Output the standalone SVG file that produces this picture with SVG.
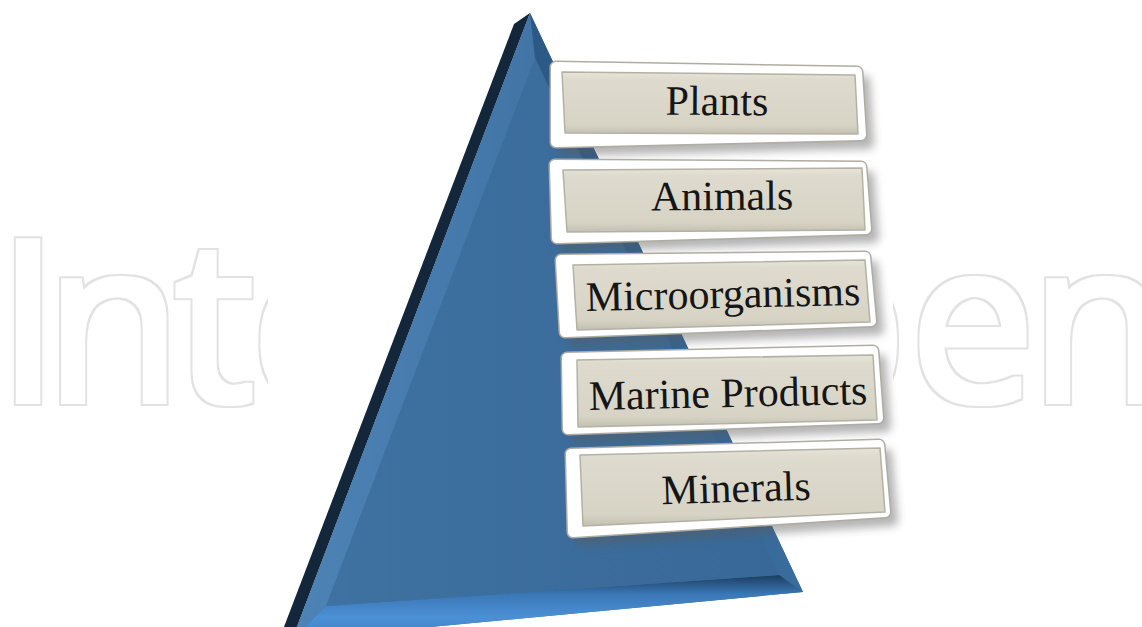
<svg xmlns="http://www.w3.org/2000/svg" width="1142" height="627" viewBox="0 0 1142 627">
  <style>
    .wm { font-family: "Open Sans", "Liberation Sans", sans-serif; font-weight: 400; font-size: 223px; fill: #000000; }
    .label { font-family: "Liberation Serif", "DejaVu Serif", serif; font-size: 42px; fill: #151515; text-anchor: middle; }
    .rimline { fill: #aeaca3; stroke: #aeaca3; stroke-width: 13; stroke-linejoin: round; }
    .rim { fill: #ffffff; stroke: #ffffff; stroke-width: 10; stroke-linejoin: round; }
    .face { fill: url(#faceGrad); stroke: #b3b1a6; stroke-width: 1.5; stroke-linejoin: round; }
    .shadow { fill: #5a5a5a; opacity: 0.45; stroke: #5a5a5a; stroke-width: 10; stroke-linejoin: round; }
  </style>
  <defs>
    <linearGradient id="faceGrad" x1="0" y1="0" x2="0" y2="1">
      <stop offset="0" stop-color="#e6e3d8"/>
      <stop offset="0.12" stop-color="#dedbce"/>
      <stop offset="0.85" stop-color="#d7d4c6"/>
      <stop offset="1" stop-color="#c3c0b1"/>
    </linearGradient>
    <linearGradient id="blueFace" x1="0" y1="0" x2="1" y2="0">
      <stop offset="0" stop-color="#3f72a1"/>
      <stop offset="1" stop-color="#386897"/>
    </linearGradient>
    <linearGradient id="leftBevel" x1="0" y1="0" x2="1" y2="0">
      <stop offset="0" stop-color="#4e83b6"/>
      <stop offset="1" stop-color="#4275a6"/>
    </linearGradient>
    <linearGradient id="rightBevel" x1="0" y1="0" x2="1" y2="0">
      <stop offset="0" stop-color="#2b5884"/>
      <stop offset="1" stop-color="#3a6d9f"/>
    </linearGradient>
    <linearGradient id="bottomBevel" x1="0" y1="0" x2="0" y2="1">
      <stop offset="0" stop-color="#1c3d60"/>
      <stop offset="0.3" stop-color="#3b78b7"/>
      <stop offset="0.65" stop-color="#4b90d5"/>
      <stop offset="1" stop-color="#3f7fc2"/>
    </linearGradient>
    <filter id="blur" x="-10%" y="-30%" width="130%" height="170%">
      <feGaussianBlur stdDeviation="4"/>
    </filter>
    <filter id="wmOutline" filterUnits="userSpaceOnUse" x="0" y="180" width="1142" height="260">
      <feMorphology in="SourceAlpha" operator="dilate" radius="4.5" result="big"/>
      <feMorphology in="SourceAlpha" operator="dilate" radius="3" result="small"/>
      <feComposite in="big" in2="small" operator="out" result="ring"/>
      <feFlood flood-color="#e2e2e2" result="col"/>
      <feComposite in="col" in2="ring" operator="in"/>
    </filter>
  </defs>

  <rect x="0" y="0" width="1142" height="627" fill="#ffffff"/>

  <!-- watermark (cut by the right edge, as in the reference) -->
  <text class="wm" filter="url(#wmOutline)" x="-3 45 175 251 380 490 620 770 910 1030" y="401">IntechOpen</text>

  <!-- figure background -->
  <rect x="268" y="0" width="625" height="627" fill="#ffffff"/>

  <!-- pyramid -->
  <g id="pyramid">
    <polygon points="530,13 514,24 279,640 292,640" fill="#13263a"/>
    <polygon points="530,13 803,592 292,640" fill="url(#blueFace)"/>
    <polygon points="530,13 535,58 326,606 292,640" fill="url(#leftBevel)"/>
    <polygon points="530,13 803,592 779,575 535,58" fill="url(#rightBevel)"/>
    <polygon points="326,606 779,575 803,592 292,640" fill="url(#bottomBevel)"/>
    <polygon points="535,58 779,575 326,606" fill="url(#blueFace)"/>
  </g>

  <g id="connectors"></g>

  <g id="node-plants">
    <path class="shadow" filter="url(#blur)" transform="translate(8,9)" d="M556,67 L857,72 L861,135 L556,142 Z"/>
    <path class="rimline" d="M556,67 L857,72 L861,135 L556,142 Z"/>
    <path class="rim" d="M556,67 L857,72 L861,135 L556,142 Z"/>
    <path class="face" d="M562,72 L855,75 L858,134 L565,133 Z"/>
    <text class="label" x="717" y="115" transform="rotate(0.4 717 104)">Plants</text>
  </g>

  <g id="node-animals">
    <path class="shadow" filter="url(#blur)" transform="translate(8,9)" d="M555,165 L861,167 L866,229 L557,238 Z"/>
    <path class="rimline" d="M555,165 L861,167 L866,229 L557,238 Z"/>
    <path class="rim" d="M555,165 L861,167 L866,229 L557,238 Z"/>
    <path class="face" d="M563,170 L862,168 L865,230 L567,232 Z"/>
    <text class="label" x="722" y="210" transform="rotate(-0.4 722 200)">Animals</text>
  </g>

  <g id="node-microorganisms">
    <path class="shadow" filter="url(#blur)" transform="translate(8,9)" d="M561,260 L865,257 L871,321 L565,332 Z"/>
    <path class="rimline" d="M561,260 L865,257 L871,321 L565,332 Z"/>
    <path class="rim" d="M561,260 L865,257 L871,321 L565,332 Z"/>
    <path class="face" d="M573,265 L865,260 L870,322 L577,330 Z"/>
    <text class="label" x="723" y="308" font-size="41.5" transform="rotate(-1.3 723 295)">Microorganisms</text>
  </g>

  <g id="node-marine">
    <path class="shadow" filter="url(#blur)" transform="translate(8,9)" d="M567,358 L873,351 L878,418 L568,429 Z"/>
    <path class="rimline" d="M567,358 L873,351 L878,418 L568,429 Z"/>
    <path class="rim" d="M567,358 L873,351 L878,418 L568,429 Z"/>
    <path class="face" d="M577,360 L873,355 L877,420 L578,427 Z"/>
    <text class="label" x="728" y="407" transform="rotate(-1.2 728 392)">Marine Products</text>
  </g>

  <g id="node-minerals">
    <path class="shadow" filter="url(#blur)" transform="translate(8,9)" d="M571,454 L879,445 L885,512 L573,532 Z"/>
    <path class="rimline" d="M571,454 L879,445 L885,512 L573,532 Z"/>
    <path class="rim" d="M571,454 L879,445 L885,512 L573,532 Z"/>
    <path class="face" d="M580,455 L880,448 L885,512 L583,526 Z"/>
    <text class="label" x="736" y="502" transform="rotate(-1.8 736 488)">Minerals</text>
  </g>
</svg>
